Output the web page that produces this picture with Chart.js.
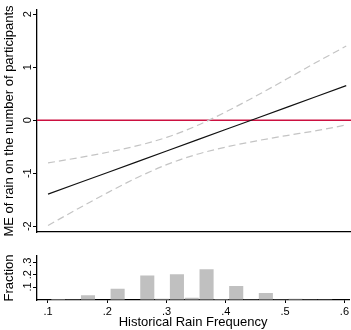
<!DOCTYPE html>
<html>
<head>
<meta charset="utf-8">
<script src="https://cdn.jsdelivr.net/npm/chart.js@4.4.0/dist/chart.umd.min.js"></script>
<style>
  html, body { margin: 0; padding: 0; background: #fff; }
  #wrap { position: relative; width: 351px; height: 330px; }
  canvas { position: absolute; left: 0; }
  #meChart { top: 0; }
  #histChart { top: 240px; }
</style>
</head>
<body>
<div id="wrap">
  <canvas id="meChart" width="351" height="240"></canvas>
  <canvas id="histChart" width="351" height="90"></canvas>
</div>
<script>
// Data
const xMin = 0.0815, xMax = 0.608;
const xTicks = [0.1, 0.2, 0.3, 0.4, 0.5, 0.6];

// Marginal effect of rain and its confidence band
const rainFreq = [0.10, 0.15, 0.20, 0.25, 0.30, 0.35, 0.40, 0.45, 0.50, 0.55, 0.60];
const meValues = [-1.396, -1.191, -0.986, -0.781, -0.577, -0.372, -0.167, 0.038, 0.243, 0.448, 0.653];
const ciUpper = [-0.806, -0.710, -0.605, -0.481, -0.320, -0.101, 0.168, 0.465, 0.776, 1.093, 1.400];
const ciLower = [-1.986, -1.672, -1.367, -1.081, -0.834, -0.643, -0.502, -0.389, -0.290, -0.197, -0.090];
const meTicks = [-2, -1, 0, 1, 2];
const refLine = 0;

// Histogram of historical rain frequency
const binCenters = [0.1175, 0.1425, 0.1675, 0.1925, 0.2175, 0.2425, 0.2675, 0.2925, 0.3175, 0.3425,
                    0.3675, 0.3925, 0.4175, 0.4425, 0.4675, 0.4925, 0.5175, 0.5425, 0.5675];
const fractions = [0.004, 0.002, 0.033, 0, 0.086, 0, 0.193, 0.005, 0.203, 0.013,
                   0.244, 0.003, 0.108, 0.002, 0.051, 0.002, 0.005, 0.002, 0.002];
const fracTicks = [0.1, 0.2, 0.3];

const pts = (xs, ys) => xs.map((x, i) => ({ x: x, y: ys[i] }));
const noLead = v => v.toFixed(1).replace(/^0/, '');

Chart.defaults.font.family = '"Liberation Sans", Arial, sans-serif';
Chart.defaults.color = '#000';
Chart.defaults.animation = false;

const tickFont = { size: 11 };
const titleFont = { size: 13 };

// Top panel: marginal effect
new Chart(document.getElementById('meChart'), {
    type: 'line',
    data: {
        datasets: [{
            data: pts(rainFreq, meValues),
            borderColor: '#111',
            borderWidth: 1.2,
            pointRadius: 0
        }, {
            data: pts(rainFreq, ciUpper),
            borderColor: '#c4c4c4',
            borderWidth: 1.2,
            borderDash: [7, 4],
            pointRadius: 0,
            cubicInterpolationMode: 'monotone'
        }, {
            data: pts(rainFreq, ciLower),
            borderColor: '#c4c4c4',
            borderWidth: 1.2,
            borderDash: [7, 4],
            pointRadius: 0,
            cubicInterpolationMode: 'monotone'
        }, {
            data: [{ x: xMin, y: refLine }, { x: xMax, y: refLine }],
            borderColor: '#cc1040',
            borderWidth: 1.4,
            pointRadius: 0
        }]
    },
    options: {
        responsive: false,
        layout: { padding: { top: 10, bottom: 8, left: 0, right: 0 } },
        plugins: { legend: { display: false }, tooltip: { enabled: false } },
        scales: {
            x: {
                type: 'linear',
                min: xMin,
                max: xMax,
                ticks: { display: false },
                grid: { display: true, drawOnChartArea: false, drawTicks: false },
                border: { display: true, color: '#000', width: 1.3 },
                afterFit: s => { s.height = 0; }
            },
            y: {
                min: -2.11,
                max: 2.08,
                afterBuildTicks: s => { s.ticks = meTicks.map(v => ({ value: v })); },
                ticks: {
                    font: tickFont,
                    minRotation: 90,
                    maxRotation: 90,
                    crossAlign: 'center',
                    padding: 0,
                    callback: v => String(v)
                },
                grid: { drawOnChartArea: false, tickLength: 4, tickColor: '#000', tickWidth: 1 },
                border: { display: true, color: '#000', width: 1.3 },
                title: { display: true, text: 'ME of rain on the number of participants', font: titleFont, padding: { top: 2, bottom: 0 } },
                afterFit: s => { s.width = 37; }
            }
        }
    }
});

// Bottom panel: histogram
new Chart(document.getElementById('histChart'), {
    type: 'bar',
    data: {
        datasets: [{
            data: pts(binCenters, fractions),
            backgroundColor: '#c0c0c0',
            borderWidth: 0,
            barPercentage: 0.95,
            categoryPercentage: 1
        }]
    },
    options: {
        responsive: false,
        layout: { padding: { top: 16, bottom: 0, left: 0, right: 0 } },
        plugins: { legend: { display: false }, tooltip: { enabled: false } },
        scales: {
            x: {
                type: 'linear',
                min: xMin,
                max: xMax,
                offset: false,
                afterBuildTicks: s => { s.ticks = xTicks.map(v => ({ value: v })); },
                ticks: { font: tickFont, padding: 2, maxRotation: 0, callback: v => noLead(v) },
                grid: { drawOnChartArea: false, offset: false, tickLength: 3, tickColor: '#000' },
                border: { display: true, color: '#000', width: 1.3 },
                title: { display: true, text: 'Historical Rain Frequency', font: titleFont, padding: { top: 0, bottom: 0 } },
                afterFit: s => { s.height = 30; }
            },
            y: {
                min: -0.005,
                max: 0.351,
                afterBuildTicks: s => { s.ticks = fracTicks.map(v => ({ value: v })); },
                ticks: {
                    font: tickFont,
                    minRotation: 90,
                    maxRotation: 90,
                    crossAlign: 'center',
                    padding: 0,
                    callback: v => noLead(v)
                },
                grid: { drawOnChartArea: false, tickLength: 4, tickColor: '#000', tickWidth: 1 },
                border: { display: true, color: '#000', width: 1.3 },
                title: { display: true, text: 'Fraction', font: titleFont, padding: { top: 2, bottom: 0 } },
                afterFit: s => { s.width = 37; }
            }
        }
    }
});
</script>
</body>
</html>
